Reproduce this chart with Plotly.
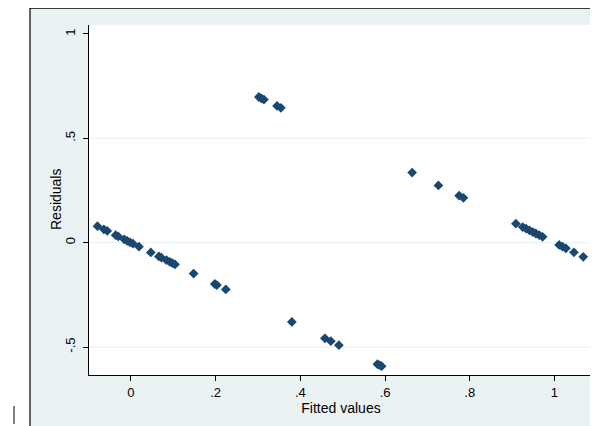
import plotly.graph_objects as go

fitted = [-0.079, -0.064, -0.056, -0.036, -0.030, -0.016, -0.009, -0.002, 0.005,
          0.019, 0.047, 0.066, 0.072, 0.084, 0.092, 0.098, 0.104, 0.148, 0.198,
          0.203, 0.224,
          0.302, 0.308, 0.314, 0.345, 0.354,
          0.380, 0.458, 0.472, 0.491, 0.582, 0.587, 0.592,
          0.664, 0.726, 0.775, 0.785,
          0.909, 0.925, 0.933, 0.941, 0.949, 0.956, 0.964, 0.972,
          1.011, 1.019, 1.027, 1.046, 1.068]
residuals = [0.079, 0.064, 0.056, 0.036, 0.030, 0.016, 0.009, 0.002, -0.005,
             -0.019, -0.047, -0.066, -0.072, -0.084, -0.092, -0.098, -0.104, -0.148, -0.198,
             -0.203, -0.224,
             0.698, 0.692, 0.686, 0.655, 0.646,
             -0.380, -0.458, -0.472, -0.491, -0.582, -0.587, -0.592,
             0.336, 0.274, 0.225, 0.215,
             0.091, 0.075, 0.067, 0.059, 0.051, 0.044, 0.036, 0.028,
             -0.011, -0.019, -0.027, -0.046, -0.068]

x_ticks = [0, 0.2, 0.4, 0.6, 0.8, 1]
x_labels = ["0", ".2", ".4", ".6", ".8", "1"]
y_ticks = [-0.5, 0, 0.5, 1]
y_labels = ["-.5", "0", ".5", "1"]
grid_vals = [-0.5, 0, 0.5]

W, H = 598, 426
OFF = 8  # page body margin
# desired plot area in screen pixels
SL, SR, ST, SB = 89, 593, 25, 375
L = SL - OFF
T = ST - OFF
R = W - (SR - OFF)
B = H - (SB - OFF)
pw, ph = W - L - R, H - T - B

def px(xs):
    return (xs - SL) / pw

def py(ys):
    return (SB - ys) / ph

navy = "#1A476F"
panel = "#EAF2F3"

fig = go.Figure()
fig.add_trace(go.Scatter(
    x=fitted, y=residuals, mode="markers",
    marker=dict(symbol="diamond", size=7.5, color=navy, line=dict(width=0)),
    showlegend=False, hoverinfo="x+y"))

shapes = [
    dict(type="rect", xref="paper", yref="paper", x0=px(30), x1=px(605), y0=py(435), y1=py(8),
         fillcolor=panel, line=dict(width=0), layer="below"),
    dict(type="rect", xref="paper", yref="paper", x0=0, x1=1, y0=0, y1=1,
         fillcolor="white", line=dict(width=0), layer="below"),
    dict(type="line", xref="paper", yref="paper", x0=px(30), x1=px(605), y0=py(8), y1=py(8),
         line=dict(color="black", width=1.5)),
    dict(type="line", xref="paper", yref="paper", x0=px(30), x1=px(30), y0=py(8), y1=py(435),
         line=dict(color="black", width=1.2)),
    dict(type="line", xref="paper", yref="paper", x0=px(14), x1=px(14), y0=py(406), y1=py(424),
         line=dict(color="black", width=1)),
]
for g in grid_vals:
    shapes.append(dict(type="line", xref="paper", yref="y", x0=0, x1=1, y0=g, y1=g,
                       line=dict(color=panel, width=1.2), layer="below"))

fig.update_layout(
    width=W, height=H,
    margin=dict(l=L, r=R, t=T, b=B, pad=0, autoexpand=False),
    paper_bgcolor="white", plot_bgcolor="rgba(0,0,0,0)",
    font=dict(family="Liberation Sans, Arial, sans-serif", size=13, color="black"),
    shapes=shapes,
    annotations=[dict(text="Residuals", xref="paper", yref="paper", x=px(56), y=py(200),
                      textangle=-90, showarrow=False, xanchor="center", yanchor="middle",
                      font=dict(size=14))],
    xaxis=dict(range=[-0.099, 1.091], tickvals=x_ticks, ticktext=x_labels,
               showgrid=False, zeroline=False, showline=True, linecolor="black", linewidth=1,
               ticks="outside", ticklen=5, tickcolor="black", automargin=False,
               title=dict(text="Fitted values", standoff=3, font=dict(size=14))),
    yaxis=dict(range=[-0.634, 1.043], tickvals=y_ticks, ticktext=y_labels, tickangle=-90,
               showgrid=False, zeroline=False, showline=True, linecolor="black", linewidth=1,
               ticks="outside", ticklen=5, tickcolor="black", automargin=False,
               ticklabelstandoff=3),
)

fig.write_html("out.html")
